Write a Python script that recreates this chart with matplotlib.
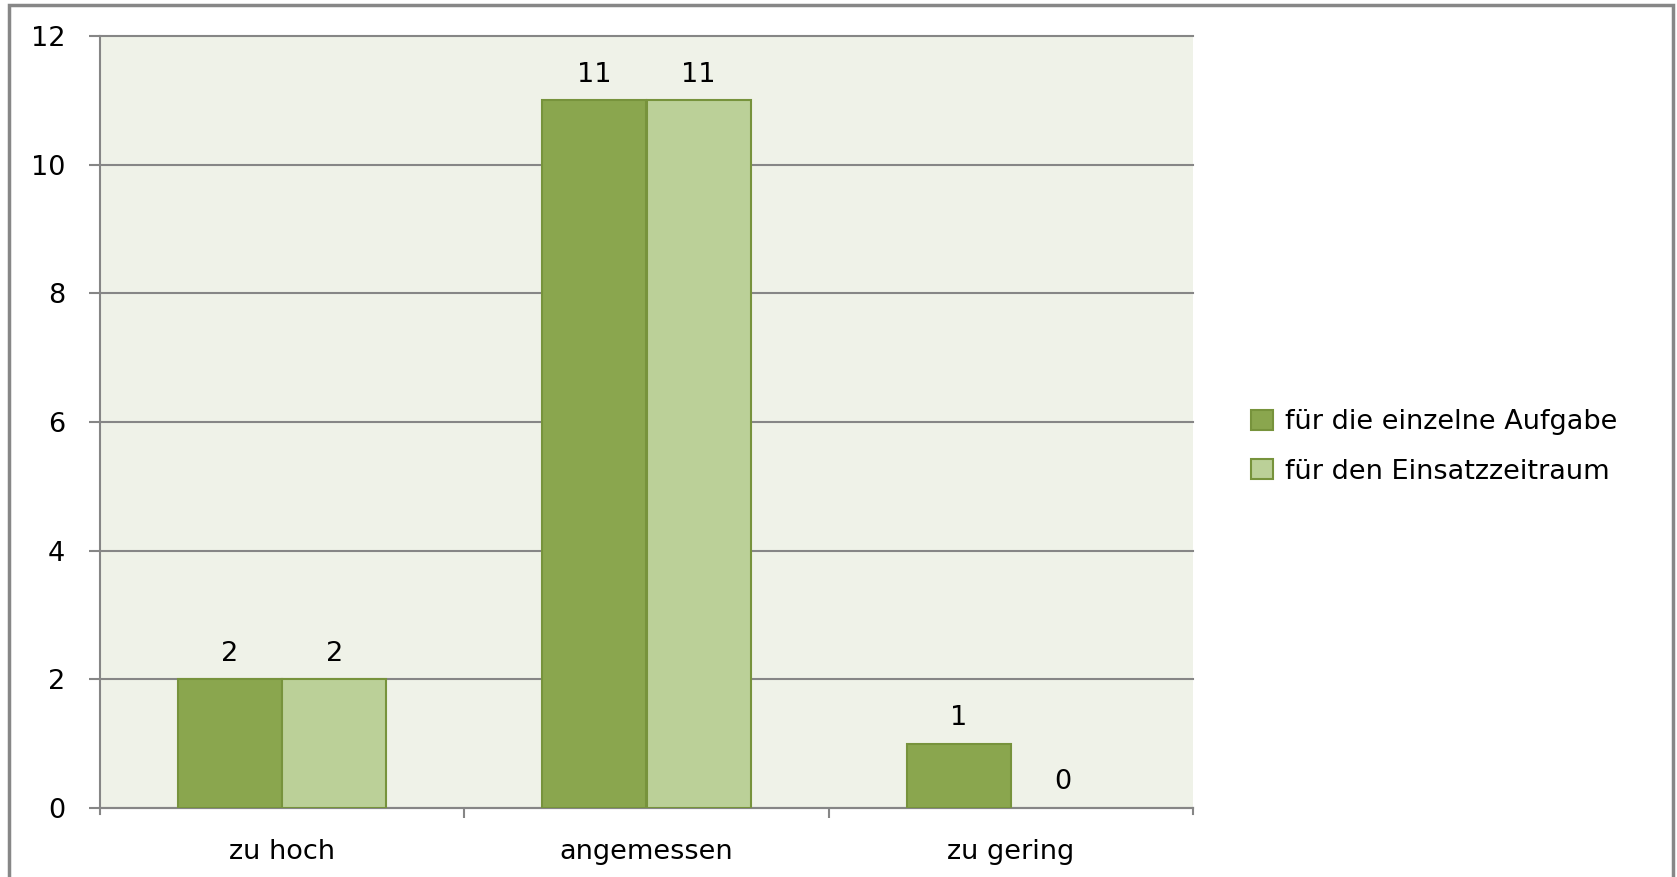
import matplotlib
matplotlib.use("Agg")
import matplotlib.pyplot as plt
from matplotlib.patches import Rectangle
import numpy as np

categories = ["zu hoch", "angemessen", "zu gering"]
series_names = ["für die einzelne Aufgabe", "für den Einsatzzeitraum"]
einzelne = [2, 11, 1]
zeitraum = [2, 11, 0]
yticks = [0, 2, 4, 6, 8, 10, 12]

plt.rcParams['font.family'] = ['DejaVu Sans']
FS = 19.5
FN = 19.5

fig = plt.figure(figsize=(16.77, 8.77), dpi=100)
fig.patch.set_facecolor('white')
ax = fig.add_axes([100/1677, 1-808/877, 1093/1677, 772/877])
ax.set_facecolor('#EFF2E8')

x = np.arange(len(categories))
w = 0.286
c1, c2, ec = '#8AA64E', '#BBD098', '#77933C'
b1 = ax.bar(x - w/2, einzelne, w, color=c1, edgecolor=ec,
            linewidth=[1.5 if v > 0 else 0 for v in einzelne], label=series_names[0], zorder=3)
b2 = ax.bar(x + w/2, zeitraum, w, color=c2, edgecolor=ec,
            linewidth=[1.5 if v > 0 else 0 for v in zeitraum], label=series_names[1], zorder=3)
for bars, vals in ((b1, einzelne), (b2, zeitraum)):
    for r, v in zip(bars, vals):
        ax.annotate(str(v), (r.get_x() + r.get_width()/2, v), xytext=(0, 18.5),
                    textcoords='offset points', ha='center', va='center', fontsize=FN)

ax.set_xlim(-0.5, 2.5)
ax.set_ylim(0, 12)
ax.set_yticks(yticks)
ax.set_yticklabels([str(t) for t in yticks], fontsize=FN)
ax.yaxis.grid(True, color='#868686', linewidth=1.5, zorder=1)
for gl in ax.get_ygridlines():
    gl.set_clip_on(False)
ax.set_axisbelow(True)
ax.set_xticks([0.5, 1.5], minor=True)
ax.set_xticks(x)
ax.set_xticklabels(categories, fontsize=FS)
ax.tick_params(axis='x', which='major', length=0, pad=22)
ax.tick_params(axis='x', which='minor', length=7, color='#868686', width=1.5, direction='out')
ax.tick_params(axis='y', length=8, color='#868686', width=1.5, pad=17)
for s in ['top', 'right']:
    ax.spines[s].set_visible(False)
for s in ['left', 'bottom']:
    ax.spines[s].set_color('#868686')
    ax.spines[s].set_linewidth(1.5)
ax.plot([-0.5, -0.5], [0, -0.1], color='#868686', lw=1.5, clip_on=False)
ax.plot([2.5, 2.5], [0, -0.1], color='#868686', lw=1.5, clip_on=False)

leg = fig.legend(handles=[b1, b2], loc='center left', bbox_to_anchor=(1251/1677, 1-447/877),
                 frameon=False, fontsize=FS, handlelength=0.8, handleheight=0.8,
                 handletextpad=0.45, labelspacing=0.85, borderpad=0, borderaxespad=0)

fig.patches.append(Rectangle((9/1677, -0.05), (1673-9)/1677, 1.05 - 5/877,
                             transform=fig.transFigure, fill=False, edgecolor='#878787', linewidth=2.5))

fig.savefig('out.png', dpi=100)
